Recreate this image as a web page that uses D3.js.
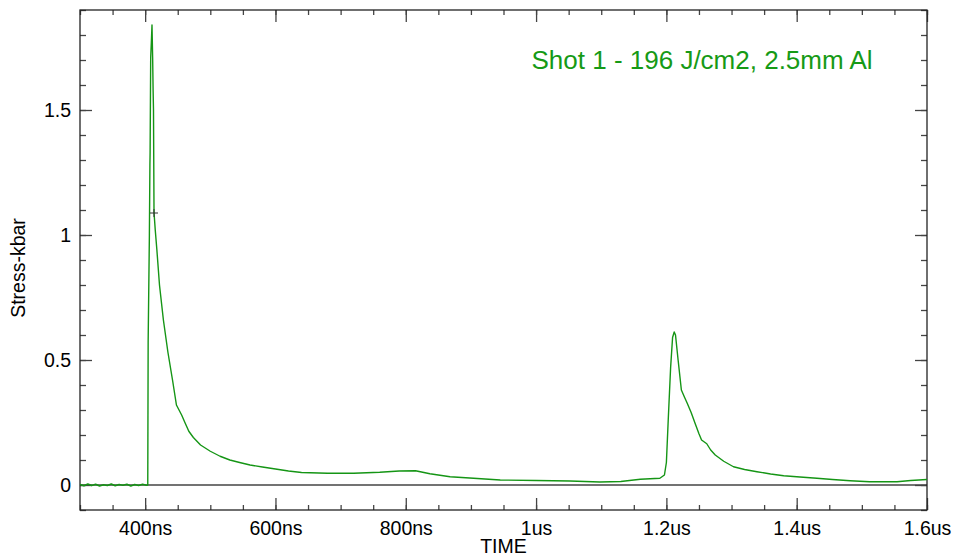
<!DOCTYPE html>
<html>
<head>
<meta charset="utf-8">
<script src="https://cdn.jsdelivr.net/npm/d3@7/dist/d3.min.js"></script>
<style>
  html, body { margin: 0; padding: 0; background: #fff; }
  svg { display: block; }
  text { font-family: "Liberation Sans", Arial, sans-serif; fill: #000; }
</style>
</head>
<body>
<svg id="chart" width="956" height="557"></svg>
<script>
// ---- data (time in ns, stress in kbar) ----
const timeNs = [
  300, 306, 312, 318, 324, 330, 336, 342, 348, 354, 360, 366, 372, 378, 384, 390, 396, 402, 404,
  404.6, 406.5, 407.3, 407.6, 408.5, 409.5, 410.5, 411.5, 412.2, 412.8, 413.6, 415.5, 418, 422,
  428, 435, 442, 448, 452, 456, 461, 467, 474, 485, 500, 515, 530, 545, 561, 580, 600, 620, 640,
  680, 720, 760, 790, 815, 837, 868, 904, 945, 1000, 1052, 1098, 1130, 1160, 1190, 1197, 1200,
  1203, 1206.5, 1209.5, 1212, 1214, 1218, 1223, 1228, 1232, 1238, 1244, 1250, 1254, 1262, 1268,
  1275, 1288, 1303, 1320, 1339, 1360, 1380, 1405, 1431, 1455, 1482, 1512, 1554, 1575, 1600
];
const stressKbar = [
  0.002, -0.003, 0.004, -0.002, 0.003, -0.004, 0.001, -0.002, 0.004, -0.003, 0.002, -0.001, 0.003, -0.004, 0.002, -0.002, 0.003, -0.001, 0.0,
  0.57, 1.0, 1.28, 1.33, 1.71, 1.77, 1.84, 1.71, 1.58, 1.50, 1.09, 1.02, 0.94, 0.80,
  0.66, 0.53, 0.42, 0.32, 0.30, 0.28, 0.25, 0.215, 0.19, 0.16, 0.135, 0.115, 0.10, 0.09, 0.08, 0.072, 0.064, 0.056, 0.05,
  0.047, 0.047, 0.051, 0.056, 0.057, 0.045, 0.033, 0.027, 0.02, 0.018, 0.016, 0.012, 0.014, 0.023, 0.027, 0.04, 0.09,
  0.27, 0.47, 0.59, 0.612, 0.60, 0.50, 0.38, 0.35, 0.327, 0.29, 0.247, 0.205, 0.18, 0.165, 0.14,
  0.12, 0.095, 0.073, 0.062, 0.053, 0.044, 0.037, 0.032, 0.027, 0.022, 0.017, 0.013, 0.013, 0.018, 0.022
];
const xTickValues = [400, 600, 800, 1000, 1200, 1400, 1600];
const xTickLabels = ["400ns", "600ns", "800ns", "1us", "1.2us", "1.4us", "1.6us"];
const yTickValues = [0, 0.5, 1, 1.5];
const yTickLabels = ["0", "0.5", "1", "1.5"];
const xDomain = [300, 1600];
const yDomain = [-0.1, 1.9];
const titleText = "Shot 1 - 196 J/cm2, 2.5mm Al";
const xTitle = "TIME";
const yTitle = "Stress-kbar";
const markerPoint = [413.6, 1.088];

// ---- layout ----
const L = 80, R = 927, T = 10, B = 510;
const svg = d3.select("#chart");
const x = d3.scaleLinear().domain(xDomain).range([L, R]);
const y = d3.scaleLinear().domain(yDomain).range([B, T]);

const axisColor = "#222";
const fontSize = "19.5px";

// minor ticks
const xMinor = d3.range(300, 1600.1, 50);
const yMinor = d3.range(-0.1, 1.91, 0.1).map(v => Math.round(v * 10) / 10);

const axisGroups = [];
function addAxis(transform, axis) {
  const g = svg.append("g").attr("transform", transform).call(axis);
  axisGroups.push(g);
  return g;
}
// bottom axis (ticks point inward/up)
addAxis(`translate(0,${B})`, d3.axisBottom(x).tickValues(xMinor).tickSize(-5).tickFormat(""));
const bottomMajorG = addAxis(`translate(0,${B})`, d3.axisBottom(x).tickValues(xTickValues).tickSize(-12).tickPadding(11)
  .tickFormat((d, i) => xTickLabels[i]));
// top axis (ticks point down)
addAxis(`translate(0,${T})`, d3.axisTop(x).tickValues(xMinor).tickSize(-5).tickFormat(""));
addAxis(`translate(0,${T})`, d3.axisTop(x).tickValues(xTickValues).tickSize(-12).tickFormat(""));
// left axis
addAxis(`translate(${L},0)`, d3.axisLeft(y).tickValues(yMinor).tickSize(-6).tickFormat(""));
const leftMajorG = addAxis(`translate(${L},0)`, d3.axisLeft(y).tickValues(yTickValues).tickSize(-12).tickPadding(9)
  .tickFormat((d, i) => yTickLabels[i]));
// right axis
addAxis(`translate(${R},0)`, d3.axisRight(y).tickValues(yMinor).tickSize(-6).tickFormat(""));
addAxis(`translate(${R},0)`, d3.axisRight(y).tickValues(yTickValues).tickSize(-12).tickFormat(""));

axisGroups.forEach(g => {
  g.select(".domain").remove();
  g.selectAll(".tick line").attr("stroke", "#444").attr("stroke-width", 1.3);
  g.selectAll(".tick text").attr("font-size", fontSize)
    .attr("font-family", "'Liberation Sans', Arial, sans-serif").attr("fill", "#000");
});
bottomMajorG.selectAll(".tick text").attr("dy", "0.71em");
leftMajorG.selectAll(".tick text").attr("dy", "0.34em");

// zero line
svg.append("line")
  .attr("x1", L).attr("x2", R).attr("y1", y(0)).attr("y2", y(0))
  .attr("stroke", "#444").attr("stroke-width", 1.3);

// frame
svg.append("rect").attr("x", L).attr("y", T).attr("width", R - L).attr("height", B - T)
  .attr("fill", "none").attr("stroke", axisColor).attr("stroke-width", 1.3);

// data line
const data = timeNs.map((t, i) => [t, stressKbar[i]]);
svg.append("path")
  .datum(data)
  .attr("fill", "none")
  .attr("stroke", "#159515")
  .attr("stroke-width", 1.4)
  .attr("stroke-linejoin", "round")
  .attr("d", d3.line().x(d => x(d[0])).y(d => y(d[1])));

// crosshair marker
const mx = x(markerPoint[0]), my = y(markerPoint[1]);
svg.append("path")
  .attr("d", `M${mx - 4},${my}H${mx + 4}M${mx},${my - 4}V${my + 4}`)
  .attr("stroke", "#333").attr("stroke-width", 1);

// title
svg.append("text")
  .attr("x", 531.5).attr("y", 69)
  .attr("font-size", "26px")
  .style("fill", "#169a16")
  .text(titleText);

// axis titles
svg.append("text")
  .attr("x", (L + R) / 2).attr("y", 553)
  .attr("text-anchor", "middle")
  .attr("font-size", fontSize)
  .text(xTitle);

svg.append("text")
  .attr("transform", `translate(25,268) rotate(-90)`)
  .attr("text-anchor", "middle")
  .attr("font-size", fontSize)
  .text(yTitle);
</script>
</body>
</html>
